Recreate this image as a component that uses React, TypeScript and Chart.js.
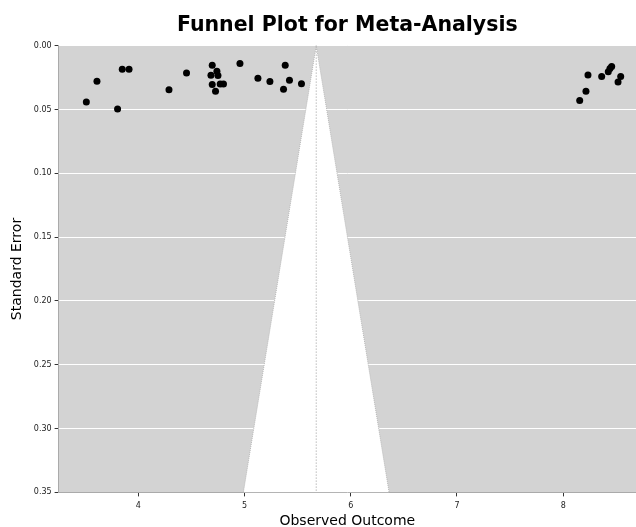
import React, { useEffect, useRef } from "react";
import { Chart, registerables } from "chart.js";

Chart.register(...registerables);

const studyOutcome: number[] = [
  3.511, 3.611, 3.805, 3.849, 3.913, 4.289, 4.454, 4.696, 4.684, 4.740, 4.750,
  4.696, 4.771, 4.802, 4.727, 4.957, 5.126, 5.239, 5.383, 5.367, 5.423, 5.536,
  8.155, 8.214, 8.233, 8.362, 8.424, 8.440, 8.456, 8.541, 8.516,
];
const studySE: number[] = [
  0.0441, 0.0280, 0.0496, 0.0186, 0.0186, 0.0345, 0.0214, 0.0154, 0.0233, 0.0201, 0.0235,
  0.0305, 0.0300, 0.0300, 0.0358, 0.0141, 0.0256, 0.0282, 0.0154, 0.0342, 0.0272, 0.0298,
  0.0431, 0.0358, 0.0230, 0.0243, 0.0204, 0.0180, 0.0164, 0.0243, 0.0285,
];
const pooledEstimate = 5.675;
const zCrit = 1.96;
const seMax = 0.35;
const xTicks: number[] = [4, 5, 6, 7, 8];
const yTicks: number[] = [0, 0.05, 0.1, 0.15, 0.2, 0.25, 0.3, 0.35];
const xMin = 3.25;
const xMax = 8.685;

const plotBg = {
  id: "plotBg",
  beforeDraw(chart: any) {
    const { ctx, chartArea } = chart;
    ctx.save();
    ctx.fillStyle = "#d3d3d3";
    ctx.fillRect(chartArea.left, chartArea.top, chartArea.right - chartArea.left, chartArea.bottom - chartArea.top);
    ctx.restore();
  },
};

export default function App() {
  const ref = useRef<HTMLCanvasElement | null>(null);
  useEffect(() => {
    if (!ref.current) return;
    const funnel = [
      { x: pooledEstimate - zCrit * seMax, y: seMax },
      { x: pooledEstimate, y: 0 },
      { x: pooledEstimate + zCrit * seMax, y: seMax },
    ];
    const center = [
      { x: pooledEstimate, y: 0 },
      { x: pooledEstimate, y: seMax },
    ];
    const pts = studyOutcome.map((x, i) => ({ x, y: studySE[i] }));
    const chart = new Chart(ref.current, {
      type: "scatter",
      data: {
        datasets: [
          {
            data: funnel,
            showLine: true,
            fill: { value: seMax },
            backgroundColor: "#ffffff",
            borderColor: "#b8b8b8",
            borderWidth: 1,
            borderDash: [1, 1],
            pointRadius: 0,
            order: 3,
          } as any,
          {
            data: center,
            showLine: true,
            borderColor: "#999999",
            borderWidth: 1,
            borderDash: [1, 2],
            pointRadius: 0,
            order: 2,
          } as any,
          {
            data: pts,
            backgroundColor: "#000000",
            borderColor: "#000000",
            pointRadius: 3.5,
            borderWidth: 0,
            order: 1,
          },
        ],
      },
      options: {
        animation: false,
        responsive: true,
        maintainAspectRatio: false,
        layout: { autoPadding: false, padding: { left: 9, right: 0, top: 13, bottom: -1 } },
        plugins: {
          legend: { display: false },
          tooltip: { enabled: false },
          title: {
            display: true,
            text: "Funnel Plot for Meta-Analysis",
            fullSize: false,
            color: "#000",
            font: { family: "DejaVu Sans", size: 20.5, weight: "bold" },
            padding: { top: 0, bottom: 8 },
          },
        },
        scales: {
          x: {
            type: "linear",
            min: xMin,
            max: xMax,
            afterBuildTicks: (axis: any) => {
              axis.ticks = xTicks.map((v) => ({ value: v }));
            },
            grid: { display: true, drawOnChartArea: false, tickLength: 4, tickColor: "#333" },
            border: { color: "#aaaaaa" },
            ticks: { color: "#222", font: { family: "DejaVu Sans", size: 8 }, padding: 5 },
            title: {
              display: true,
              text: "Observed Outcome",
              color: "#000",
              font: { family: "DejaVu Sans", size: 14, lineHeight: 1.0 },
              padding: { top: -2, bottom: 0 },
            },
          },
          y: {
            type: "linear",
            reverse: true,
            min: 0,
            max: seMax,
            afterBuildTicks: (axis: any) => {
              axis.ticks = yTicks.map((v) => ({ value: v }));
            },
            grid: { color: "#ffffff", lineWidth: 1, tickLength: 4, tickColor: "#333" },
            border: { color: "#aaaaaa" },
            ticks: {
              color: "#222",
              font: { family: "DejaVu Sans", size: 8 },
              padding: 3,
              callback: (v: any) => Number(v).toFixed(2),
            },
            title: {
              display: true,
              text: "Standard Error",
              color: "#000",
              font: { family: "DejaVu Sans", size: 14 },
              padding: { top: 0, bottom: 5 },
            },
          },
        },
      },
      plugins: [plotBg],
    } as any);
    return () => chart.destroy();
  }, []);
  return (
    <div style={{ position: "fixed", left: 0, top: 0, width: 636, height: 527 }}>
      <canvas ref={ref} />
    </div>
  );
}
